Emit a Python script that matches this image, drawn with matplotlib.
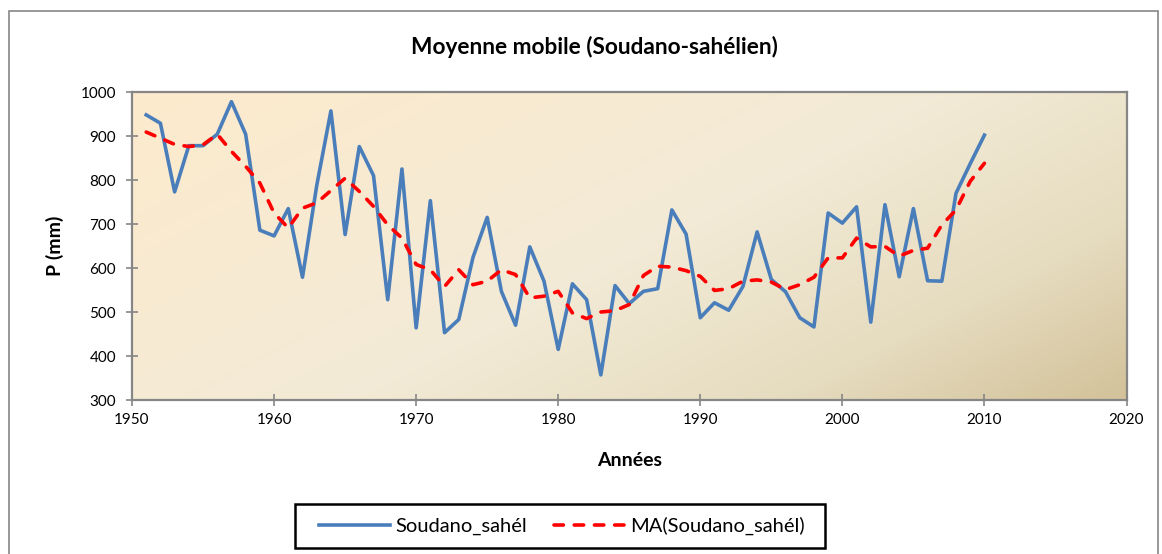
import matplotlib
matplotlib.use("Agg")
import matplotlib.pyplot as plt
import matplotlib.patches as patches
from matplotlib.colors import LinearSegmentedColormap
import numpy as np

plt.rcParams['font.family'] = ['Lato', 'DejaVu Sans']

# Pluviométrie annuelle, zone soudano-sahélienne
years = list(range(1951, 2011))
rain = [948, 929, 773, 878, 878, 904, 978, 904, 686, 673,
        735, 579, 787, 957, 676, 876, 810, 528, 825, 464,
        753, 453, 483, 624, 715, 547, 470, 648, 570, 415,
        564, 528, 357, 560, 519, 547, 553, 732, 677, 487,
        521, 504, 558, 682, 574, 546, 487, 466, 725, 702,
        739, 477, 744, 580, 735, 571, 570, 770, 837, 902]
# Moyenne mobile (courbe de tendance)
rain_ma = [909, 895, 881, 876, 880, 904, 865, 831, 793, 725,
           691, 736, 748, 776, 804, 774, 740, 698, 668, 608,
           596, 558, 596, 562, 570, 596, 585, 532, 536, 547,
           498, 485, 500, 503, 517, 583, 604, 602, 594, 581,
           549, 553, 570, 573, 568, 551, 562, 579, 623, 623,
           668, 648, 649, 627, 640, 645, 698, 732, 797, 838]

x_ticks = list(range(1950, 2021, 10))
y_ticks = list(range(300, 1001, 100))

W, H = 1162, 554
fig = plt.figure(figsize=(W / 100, H / 100), dpi=100)
ax = fig.add_axes([132 / W, 1 - 400 / H, (1126.5 - 132) / W, (400 - 92) / H])

# fond dégradé de la zone de tracé
grad_cmap = LinearSegmentedColormap.from_list(
    "parchemin", [(0.0, "#fdeacc"), (0.5, "#f3ebd7"), (0.78, "#e6dcc0"), (1.0, "#d3c29a")])
gx, gy = np.meshgrid(np.linspace(0, 1, 300), np.linspace(0, 1, 150))
t = (gx * 0.75 + gy * 0.45) / 1.2
ax.imshow(t, cmap=grad_cmap, extent=[1950, 2020, 300, 1000], origin="upper",
          aspect="auto", zorder=0, interpolation="bilinear")

ax.plot(years, rain, color="#4a7ebb", lw=2.6, label="Soudano_sahél", zorder=3)
ax.plot(years, rain_ma, color="#ff0000", lw=2.6, ls=(0, (2.6, 3.0)),
        dash_capstyle="round", label="MA(Soudano_sahél)", zorder=4)

ax.set_xlim(1950, 2020)
ax.set_ylim(300, 1000)
ax.set_xticks(x_ticks)
ax.set_yticks(y_ticks)
ax.tick_params(direction="inout", length=9, width=1.2, color="#868686",
               labelsize=11, pad=5)
ax.tick_params(axis="y", pad=7)
for s in ax.spines.values():
    s.set_color("#868686")
    s.set_linewidth(1.6)

ax.set_xlabel("Années", fontsize=14, fontweight="bold", labelpad=18)
ax.set_ylabel("P (mm)", fontsize=14, fontweight="bold", labelpad=12)
fig.text(594 / W, 1 - 47 / H, "Moyenne mobile (Soudano-sahélien)",
         ha="center", va="center", fontsize=16.3, fontweight="bold")

# légende sous le graphique, cadre noir
fig.patches.append(patches.Rectangle((295 / W, 1 - 548 / H), (825 - 295) / W, 44 / H,
                                     transform=fig.transFigure, fill=False,
                                     edgecolor="black", lw=1.8))
fig.legend(loc="center", bbox_to_anchor=(562 / W, 1 - 526 / H), ncol=2,
           fontsize=14.5, frameon=False, handlelength=3.5,
           columnspacing=1.3, borderpad=0.2, handletextpad=0.3)

# cadre de la zone de graphique
fig.patches.append(patches.Rectangle((9 / W, -0.05), (1158 - 9) / W, 0.05 + 1 - 11 / H,
                                     transform=fig.transFigure, fill=False,
                                     edgecolor="#868686", lw=1.2))

fig.savefig("out.png", dpi=100)
